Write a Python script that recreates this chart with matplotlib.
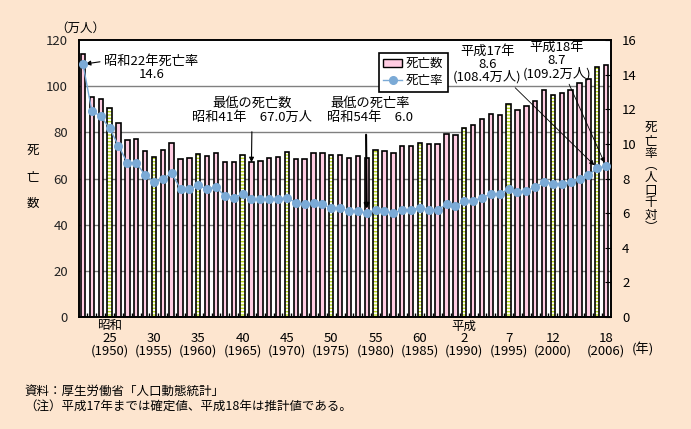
import numpy as np
import matplotlib.pyplot as plt
from matplotlib.patches import Patch
from matplotlib.lines import Line2D
from matplotlib.transforms import blended_transform_factory

plt.rcParams['font.family'] = ['Noto Sans CJK JP', 'DejaVu Sans']

# 昭和22年(1947)〜平成18年(2006)
years = list(range(1947, 2007))
deaths = [113.8, 95.1, 94.5, 90.5, 83.9, 76.5, 77.3, 72.1, 69.4, 72.4,
          75.2, 68.4, 68.9, 70.7, 69.6, 71.0, 67.1, 67.3, 70.0, 67.0,
          67.5, 68.7, 69.4, 71.3, 68.5, 68.3, 70.9, 71.1, 70.2, 70.3,
          69.0, 69.6, 69.0, 72.3, 72.0, 71.2, 74.0, 74.0, 75.2, 75.1,
          75.1, 79.3, 78.9, 82.0, 83.0, 85.7, 87.9, 87.6, 92.2, 89.6,
          91.3, 93.6, 98.2, 96.2, 97.0, 98.2, 101.5, 102.9, 108.4, 109.2]
rate = [14.6, 11.9, 11.6, 10.9, 9.9, 8.9, 8.9, 8.2, 7.8, 8.0,
        8.3, 7.4, 7.4, 7.6, 7.4, 7.5, 7.0, 6.9, 7.1, 6.8,
        6.8, 6.8, 6.8, 6.9, 6.6, 6.5, 6.6, 6.5, 6.3, 6.3,
        6.1, 6.1, 6.0, 6.2, 6.1, 6.0, 6.2, 6.2, 6.3, 6.2,
        6.2, 6.5, 6.4, 6.7, 6.7, 6.9, 7.1, 7.1, 7.4, 7.2,
        7.3, 7.5, 7.8, 7.7, 7.7, 7.8, 8.0, 8.2, 8.6, 8.7]
census_years = [1950, 1955, 1960, 1965, 1970, 1975, 1980, 1985, 1990, 1995, 2000, 2005]

tick_years = [1950, 1955, 1960, 1965, 1970, 1975, 1980, 1985, 1990, 1995, 2000, 2006]
tick_labels = ['25\n(1950)', '30\n(1955)', '35\n(1960)', '40\n(1965)', '45\n(1970)',
               '50\n(1975)', '55\n(1980)', '60\n(1985)', '2\n(1990)', '7\n(1995)',
               '12\n(2000)', '18\n(2006)']

bg = '#FDE5CF'
pink = '#FFCCE2'
green = '#B8D820'
blue = '#7BAAD6'
fs = 9

fig = plt.figure(figsize=(6.91, 4.29), dpi=100, facecolor=bg)
ax = fig.add_axes([79 / 691, 112 / 429, 532 / 691, 277 / 429])
ax2 = ax.twinx()

x = np.array(years)
d = np.array(deaths)
is_census = np.isin(x, census_years)

# グリッド
for g in [20, 40, 60, 80, 100]:
    ax.axhline(g, color='#808080', lw=1, zorder=0)

# 棒グラフ
ax.bar(x[~is_census], d[~is_census], width=0.5, color=pink, edgecolor='black', lw=1.2, zorder=2)
ax.bar(x[is_census], d[is_census], width=0.5, color='white', edgecolor=green, hatch='-----',
       lw=0, zorder=2)
ax.bar(x[is_census], d[is_census], width=0.5, fill=False, edgecolor='black', lw=1.2, zorder=3)

ax.set_xlim(1946.55, 2006.55)
ax.set_ylim(0, 120)
ax.set_yticks([0, 20, 40, 60, 80, 100, 120])
ax.tick_params(axis='y', length=0, labelsize=fs + 0.5, pad=8, colors='#222222')
ax.set_xticks(tick_years)
ax.set_xticklabels(tick_labels, fontsize=fs + 0.5, linespacing=0.95)
ax.tick_params(axis='x', length=0, pad=11)
ax.set_xticks(np.arange(1947.5, 2006, 1), minor=True)
ax.tick_params(axis='x', which='minor', direction='in', length=3, width=1)

# 死亡率
ax2.plot(years, rate, color=blue, lw=1, marker='o', ms=5.5, mfc=blue, mec=blue, zorder=4)
ax2.set_ylim(0, 16)
ax2.set_yticks(range(0, 17, 2))
ax2.tick_params(axis='y', direction='in', length=4, labelsize=fs + 0.5, pad=8)

for spine in list(ax.spines.values()) + list(ax2.spines.values()):
    spine.set_linewidth(1.2)

# 軸ラベルなど
fig.text(80 / 691, 1 - 28 / 429, '（万人）', fontsize=fs, ha='center', va='center')
fig.text(33 / 691, 1 - 177 / 429, '死\n亡\n数', fontsize=fs, ha='center', va='center', linespacing=2.3)
fig.text(651 / 691, 1 - 178 / 429, '死\n亡\n率\n︵\n人\n口\n千\n対\n︶', fontsize=fs,
         ha='center', va='center', linespacing=0.95)
trans = blended_transform_factory(ax.transData, fig.transFigure)
ax.text(1950, 1 - 326 / 429, '昭和', transform=trans, fontsize=fs, ha='center', va='center')
ax.text(1990, 1 - 326 / 429, '平成', transform=trans, fontsize=fs, ha='center', va='center')
fig.text(643 / 691, 1 - 350 / 429, '(年)', fontsize=fs + 0.5, ha='center', va='center')

fig.text(24 / 691, 1 - 391 / 429, '資料：厚生労働省「人口動態統計」', fontsize=fs, ha='left', va='center')
fig.text(24 / 691, 1 - 406 / 429, '（注）平成17年までは確定値、平成18年は推計値である。', fontsize=fs,
         ha='left', va='center')

# 注記
ax2.annotate('昭和22年死亡率\n14.6', xy=(1947, 14.6), xytext=(1954.7, 14.4),
             fontsize=fs + 0.5, ha='center', va='center', linespacing=1.0,
             arrowprops=dict(arrowstyle='-|>', color='black', lw=0.8, mutation_scale=7,
                             relpos=(0.0, 0.75), shrinkA=1, shrinkB=2))
ax.annotate('最低の死亡数\n昭和41年　67.0万人', xy=(1966, 67.0), xytext=(1966.06, 89.7),
            fontsize=fs + 0.5, ha='center', va='center', linespacing=1.1,
            arrowprops=dict(arrowstyle='-|>', color='black', lw=0.8, mutation_scale=7,
                            relpos=(0.5, 0.0), shrinkA=4, shrinkB=0))
ax2.annotate('最低の死亡率\n昭和54年　6.0', xy=(1979, 6.0), xytext=(1979.4, 11.95),
             fontsize=fs + 0.5, ha='center', va='center', linespacing=1.1,
             arrowprops=dict(arrowstyle='-|>', color='black', lw=1.5, mutation_scale=7,
                             relpos=(0.45, 0.0), shrinkA=6, shrinkB=3))
ax2.annotate('平成17年\n8.6\n(108.4万人)', xy=(2005, 8.6), xytext=(1992.6, 14.6),
             fontsize=fs + 0.5, ha='center', va='center', linespacing=1.0,
             arrowprops=dict(arrowstyle='-|>', color='black', lw=0.6, mutation_scale=7,
                             relpos=(0.85, 0.0), shrinkA=1, shrinkB=3))
ax2.annotate('平成18年\n8.7\n(109.2万人)', xy=(2006, 8.7), xytext=(2000.46, 14.82),
             fontsize=fs + 0.5, ha='center', va='center', linespacing=1.0,
             arrowprops=dict(arrowstyle='-|>', color='black', lw=0.6, mutation_scale=7,
                             relpos=(0.65, 0.0), shrinkA=1, shrinkB=3))

# 凡例
handles = [Patch(facecolor=pink, edgecolor='black', lw=1),
           Line2D([], [], color=blue, lw=1, marker='o', ms=5.5, mfc=blue, mec=blue)]
leg = ax2.legend(handles, ['死亡数', '死亡率'], loc='upper left',
                 bbox_to_anchor=(379 / 691, 1 - 53 / 429), bbox_transform=fig.transFigure,
                 fontsize=fs, frameon=True, fancybox=False, edgecolor='black',
                 borderpad=0.35, labelspacing=0.3, handlelength=1.5, handletextpad=0.3,
                 borderaxespad=0)
leg.get_frame().set_linewidth(1.2)
leg.get_frame().set_facecolor('white')
leg.get_frame().set_alpha(1)

fig.savefig('out.png', dpi=100, facecolor=bg)
